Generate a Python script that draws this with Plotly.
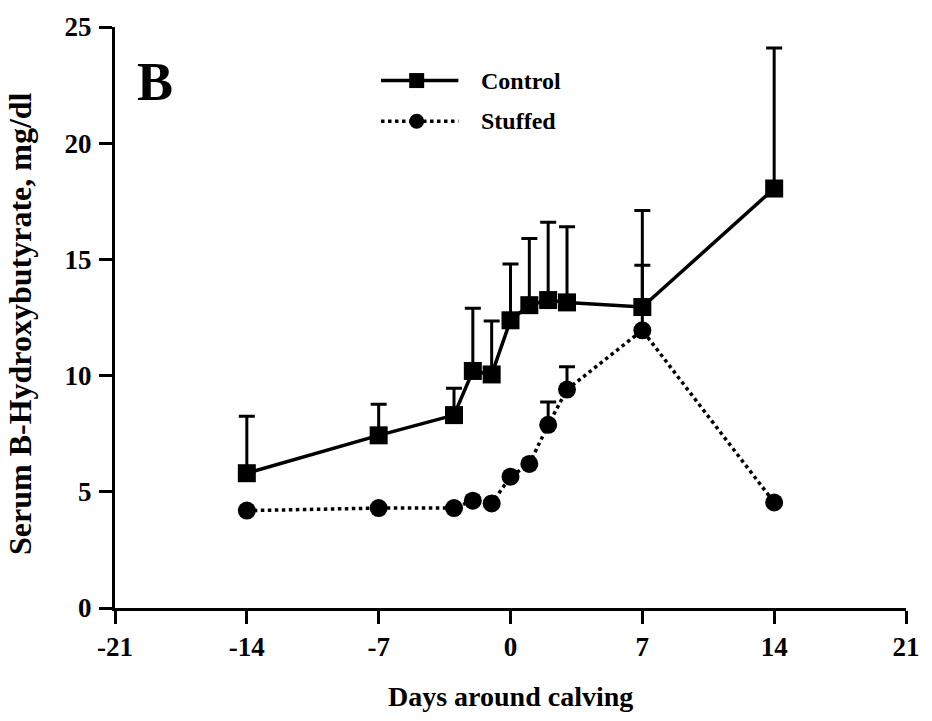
import plotly.graph_objects as go

# Days relative to calving
days = [-14, -7, -3, -2, -1, 0, 1, 2, 3, 7, 14]

# Serum B-hydroxybutyrate (mg/dl), mean and upper SEM
control_mean = [5.80, 7.43, 8.30, 10.20, 10.05, 12.38, 13.03, 13.25, 13.15, 12.95, 18.05]
control_sem = [2.45, 1.34, 1.16, 2.70, 2.30, 2.42, 2.87, 3.35, 3.25, 4.15, 6.05]

stuffed_mean = [4.19, 4.30, 4.30, 4.62, 4.50, 5.65, 6.20, 7.88, 9.40, 11.95, 4.54]
stuffed_sem = [0, 0, 0, 0, 0, 0, 0, 0.98, 0.98, 2.80, 0]

x_ticks = [-21, -14, -7, 0, 7, 14, 21]
y_ticks = [0, 5, 10, 15, 20, 25]

series_names = ["Control", "Stuffed"]
panel_label = "B"
x_title = "Days around calving"
y_title = "Serum B-Hydroxybutyrate, mg/dl"

FONT = "Liberation Serif"
INK = "black"

fig = go.Figure()

fig.add_trace(go.Scatter(
    x=days, y=stuffed_mean, name=series_names[1], mode="lines+markers",
    line=dict(color=INK, width=3.5, dash="dot"),
    marker=dict(symbol="circle", size=18, color=INK),
    error_y=dict(type="data", array=stuffed_sem, arrayminus=[0] * len(days),
                 symmetric=False, color=INK, thickness=3, width=8),
    cliponaxis=False, showlegend=False,
))

fig.add_trace(go.Scatter(
    x=days, y=control_mean, name=series_names[0], mode="lines+markers",
    line=dict(color=INK, width=3.5),
    marker=dict(symbol="square", size=18, color=INK),
    error_y=dict(type="data", array=control_sem, arrayminus=[0] * len(days),
                 symmetric=False, color=INK, thickness=3, width=8),
    cliponaxis=False, showlegend=False,
))

axis_common = dict(
    showgrid=False, zeroline=False, showline=True, linecolor=INK, linewidth=3,
    ticks="outside", tickcolor=INK, tickwidth=3, ticklen=13,
    tickfont=dict(family=FONT, size=27, color=INK, weight="bold"),
)

fig.update_xaxes(range=[-21, 21], tickvals=x_ticks, ticktext=[str(v) for v in x_ticks],
                 **axis_common)
fig.update_yaxes(range=[0, 25], tickvals=y_ticks, ticktext=[str(v) for v in y_ticks],
                 ticklabelstandoff=2, **axis_common)

# Hand-drawn legend: line segment, marker and label per series
shapes = []
annotations = []
legend_rows = [(0.9078, "solid", "square"), (0.8379, "dot", "circle")]
lx0, lx1, lxm, ltext = 0.3363, 0.4341, 0.3814, 0.4605
for (ly, dash, sym), name in zip(legend_rows, series_names):
    shapes.append(dict(type="line", xref="paper", yref="paper", x0=lx0, x1=lx1, y0=ly, y1=ly,
                       line=dict(color=INK, width=3.5, dash=dash)))
    shapes.append(dict(type="rect" if sym == "square" else "circle",
                       xref="paper", yref="paper", xsizemode="pixel", ysizemode="pixel",
                       xanchor=lxm, yanchor=ly, x0=-7.5, x1=7.5, y0=-7.5, y1=7.5,
                       fillcolor=INK, line=dict(width=0)))
    annotations.append(dict(text=name, xref="paper", yref="paper", x=ltext, y=ly,
                            xanchor="left", yanchor="middle", showarrow=False,
                            font=dict(family=FONT, size=24, color=INK, weight="bold")))

annotations.append(dict(text=panel_label, xref="paper", yref="paper", x=0.0502, y=0.906,
                        xanchor="center", yanchor="middle", showarrow=False,
                        font=dict(family=FONT, size=54, color=INK, weight="bold")))
annotations.append(dict(text=x_title, xref="paper", yref="paper", x=0.5, y=-0.152,
                        xanchor="center", yanchor="middle", showarrow=False,
                        font=dict(family=FONT, size=28, color=INK, weight="bold")))
annotations.append(dict(text=y_title, xref="paper", yref="paper", x=-0.1192, y=0.49,
                        xanchor="center", yanchor="middle", textangle=-90, showarrow=False,
                        font=dict(family=FONT, size=32, color=INK, weight="bold")))

fig.update_layout(
    width=932, height=721,
    margin=dict(l=115, r=20, t=22, b=113),
    plot_bgcolor="white", paper_bgcolor="white",
    shapes=shapes, annotations=annotations,
)

fig.write_html("out.html")
